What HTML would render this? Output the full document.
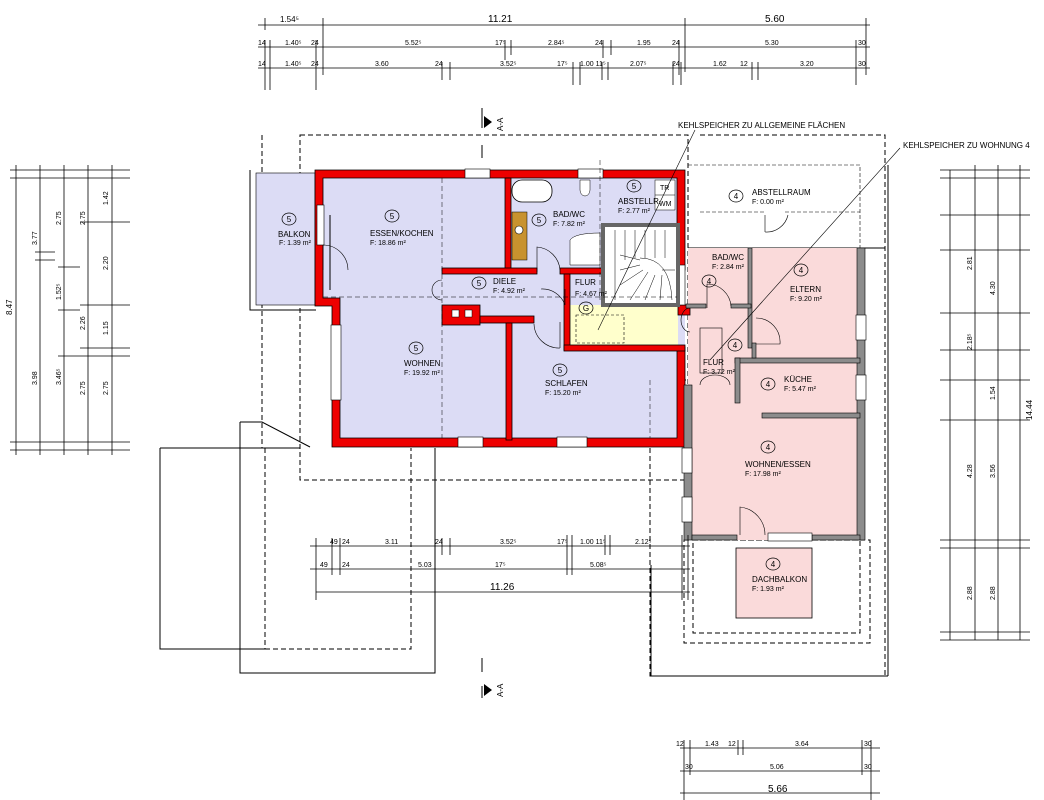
<!DOCTYPE html>
<html><head><meta charset="utf-8"><style>
html,body{margin:0;padding:0;background:#fff;}
svg{display:block;font-family:"Liberation Sans Narrow","Liberation Sans",sans-serif;}
.t{font-size:8px;fill:#000;}
.d{font-size:7px;fill:#000;}
.big{font-size:10px;fill:#000;}
</style></head><body>
<svg width="1044" height="800" viewBox="0 0 1044 800" xmlns="http://www.w3.org/2000/svg">
<g fill="none" stroke="#000" stroke-width="1">
<!-- roof outlines -->
<rect x="300" y="135" width="388" height="345" stroke-dasharray="5,3"/>
<path d="M700 135 H885 V676 H650 V380 H688" stroke-dasharray="5,3"/>
<path d="M888 165 V676" />
<path d="M651 565 V676 H888"/>
<rect x="684" y="540" width="186" height="103" stroke-dasharray="5,3"/>
<rect x="693" y="540" width="167" height="93" stroke-dasharray="5,3"/>
<path d="M160 448 H300 M160 448 V649 H265" />
<path d="M265 649 H411 V448" stroke-dasharray="5,3"/>
<path d="M265 448 V649" stroke-dasharray="5,3"/>
<path d="M240 422 V673 H435 V448"/>
<path d="M240 422 H262 L310 447"/>
<path d="M250 170 V310 H316"/>
<path d="M262 135 V448" stroke-dasharray="5,3"/>
<path d="M640 380 H688" stroke-dasharray="5,3"/>
<path d="M688 248 H885"/>
<path d="M640 420 H688" stroke-dasharray="5,3"/>
</g>
<!-- balcony -->
<rect x="256" y="173" width="59" height="132" fill="#dcdcf5" stroke="#000" stroke-width="0.6"/>
<!-- unit 5 fill -->
<path d="M316 170 H685 V447 H332 V300 H316 Z" fill="#dcdcf5"/>
<rect x="568" y="305" width="110" height="42" fill="#ffffcc"/>
<!-- unit 4 fill -->
<path d="M688 248 H862 V540 H688 Z" fill="#fadada"/>
<rect x="736" y="548" width="76" height="70" fill="#fadada" stroke="#000" stroke-width="0.8"/>
<!-- red walls -->
<g fill="#ee0000" stroke="#000" stroke-width="0.8">
<path d="M315 170 H685 V270 H677 V178 H323 V298 H340 V438 H677 V347 H685 V447 H332 V306 H315 Z"/>
<rect x="505" y="178" width="6" height="92"/>
<rect x="442" y="268" width="95" height="6"/>
<rect x="560" y="268" width="43" height="6"/>
<rect x="442" y="305" width="38" height="20"/>
<rect x="480" y="316" width="54" height="7"/>
<rect x="506" y="323" width="6" height="117"/>
<rect x="564" y="274" width="6" height="76"/>
<rect x="564" y="345" width="121" height="6"/>
<rect x="678" y="305" width="12" height="10"/>
</g>
<rect x="452" y="310" width="7" height="7" fill="#fff" stroke="#000" stroke-width="0.5"/>
<rect x="465" y="310" width="7" height="7" fill="#fff" stroke="#000" stroke-width="0.5"/>
<!-- windows on red walls -->
<g fill="#fff" stroke="#000" stroke-width="0.6">
<rect x="465" y="169" width="25" height="9"/>
<rect x="578" y="169" width="25" height="9"/>
<rect x="317" y="205" width="7" height="40"/>
<rect x="331" y="325" width="10" height="75"/>
<rect x="458" y="437" width="25" height="10"/>
<rect x="557" y="437" width="30" height="10"/>
<rect x="677" y="265" width="8" height="40"/>
</g>
<!-- stairs -->
<rect x="603" y="225" width="75" height="80" fill="#fff" stroke="#666" stroke-width="4"/>
<g stroke="#000" stroke-width="0.5" fill="none">
<path d="M615 230 V300 M625 230 V260 M635 230 V258 M645 230 V258 M655 230 V258 M665 230 V258 M620 255 L640 260 M620 270 L640 265 M620 285 L643 270 M630 300 L648 272 M645 300 L655 275 M660 300 L662 275 M675 270 H662"/>
<path d="M640 258 Q670 258 672 300"/>
</g>
<!-- bath fixtures -->
<rect x="512" y="180" width="40" height="22" rx="10" fill="#fff" stroke="#000" stroke-width="0.8"/>
<rect x="512" y="212" width="15" height="48" fill="#c8922e" stroke="#000" stroke-width="0.5"/>
<circle cx="519" cy="230" r="4" fill="#fff" stroke="#000" stroke-width="0.6"/>
<path d="M580 180 h10 v10 a5 6 0 0 1 -10 0 z" fill="#fff" stroke="#000" stroke-width="0.5"/>
<path d="M570 265 V240 Q575 233 600 233 V265 Z" fill="#fff" stroke="#000" stroke-width="0.5"/>
<rect x="655" y="180" width="20" height="30" fill="#fff" stroke="#000" stroke-width="0.5"/>
<path d="M655 195 H675" stroke="#000" stroke-width="0.5"/>
<text x="660" y="190" class="d">TR</text><text x="659" y="206" class="d">WM</text>
<!-- doors -->
<g fill="none" stroke="#000" stroke-width="0.6">
<path d="M323 245 A25 25 0 0 1 348 270 M323 245 V270"/>
<path d="M537 272 V247 A25 25 0 0 1 560 270"/>
<path d="M565 305 A24 24 0 0 0 541 289 M565 289 V305"/>
<path d="M534 324 A25 25 0 0 0 560 348 M560 322 V348"/>
<path d="M442 280 A10 10 0 0 0 442 300"/>
<path d="M690 308 A9 12 0 0 0 690 332"/>
<path d="M756 318 A24 24 0 0 1 780 344 H756"/>
<path d="M707 308 V284 A24 24 0 0 1 731 306"/>
<path d="M700 385 A15 10 0 0 1 730 385"/>
<path d="M740 535 V507 A28 28 0 0 1 765 535"/>
<path d="M765 232 A22 22 0 0 0 788 215 M765 215 V232"/>
<rect x="576" y="315" width="48" height="28" stroke-dasharray="3,2"/>
<rect x="700" y="328" width="22" height="45"/>
<path d="M330 215 V290" stroke-width="1"/>
<path d="M442 178 V438 M600 160 V300 M650 380 V438" stroke-dasharray="5,3" stroke-width="0.5"/>
<path d="M323 297 H677" stroke-dasharray="5,3" stroke-width="0.5"/>
</g>
<!-- unit 4 gray walls -->
<g fill="#8c8c8c" stroke="#000" stroke-width="0.6">
<rect x="857" y="248" width="8" height="292"/>
<rect x="735" y="358" width="125" height="5"/>
<rect x="762" y="413" width="98" height="5"/>
<rect x="735" y="358" width="5" height="45"/>
<rect x="684" y="385" width="8" height="155"/>
<rect x="692" y="535" width="45" height="5"/>
<rect x="812" y="535" width="48" height="5"/>
<rect x="748" y="248" width="4" height="100"/>
<rect x="686" y="304" width="20" height="4"/>
<rect x="731" y="304" width="20" height="4"/>
<rect x="752" y="343" width="4" height="15"/>
</g>
<g fill="#fff" stroke="#000" stroke-width="0.6">
<rect x="856" y="315" width="10" height="25"/>
<rect x="856" y="375" width="10" height="25"/>
<rect x="682" y="448" width="10" height="25"/>
<rect x="682" y="497" width="10" height="25"/>
<rect x="768" y="533" width="44" height="8"/>
</g>
<path d="M688 165 H860 V248 M700 212 H765 M785 212 H860" fill="none" stroke="#000" stroke-width="0.6" stroke-dasharray="4,2"/>
<!-- leader lines -->
<g stroke="#000" stroke-width="0.6" fill="none">
<path d="M695 130 L598 330"/>
<path d="M900 148 L710 360"/>
</g>
<text x="678" y="128" class="t">KEHLSPEICHER ZU ALLGEMEINE FLÄCHEN</text>
<text x="903" y="148" class="t">KEHLSPEICHER ZU WOHNUNG 4</text>
<!-- room labels -->
<g stroke="#000" stroke-width="0.7" fill="none">
<ellipse cx="289" cy="219" rx="7" ry="6"/><ellipse cx="392" cy="216" rx="7" ry="6"/>
<ellipse cx="539" cy="220" rx="7" ry="6"/><ellipse cx="634" cy="186" rx="7" ry="6"/>
<ellipse cx="479" cy="283" rx="7" ry="6"/><ellipse cx="586" cy="308" rx="7" ry="6"/>
<ellipse cx="416" cy="348" rx="7" ry="6"/><ellipse cx="560" cy="370" rx="7" ry="6"/>
<ellipse cx="736" cy="196" rx="7" ry="6"/><ellipse cx="709" cy="281" rx="7" ry="6"/>
<ellipse cx="801" cy="270" rx="7" ry="6"/><ellipse cx="735" cy="345" rx="7" ry="6"/>
<ellipse cx="768" cy="384" rx="7" ry="6"/><ellipse cx="768" cy="447" rx="7" ry="6"/>
<ellipse cx="773" cy="564" rx="7" ry="6"/>
</g>
<g class="t" text-anchor="middle">
<text x="289" y="222">5</text><text x="392" y="219">5</text><text x="539" y="223">5</text><text x="634" y="189">5</text>
<text x="479" y="286">5</text><text x="586" y="311">G</text><text x="416" y="351">5</text><text x="560" y="373">5</text>
<text x="736" y="199">4</text><text x="709" y="284">4</text><text x="801" y="273">4</text><text x="735" y="348">4</text>
<text x="768" y="387">4</text><text x="768" y="450">4</text><text x="773" y="567">4</text>
</g>
<g class="t">
<text x="278" y="237">BALKON</text><text x="279" y="245" class="d">F: 1.39 m²</text>
<text x="370" y="236">ESSEN/KOCHEN</text><text x="370" y="245" class="d">F: 18.86 m²</text>
<text x="553" y="217">BAD/WC</text><text x="553" y="226" class="d">F: 7.82 m²</text>
<text x="618" y="204">ABSTELLR.</text><text x="618" y="213" class="d">F: 2.77 m²</text>
<text x="493" y="284">DIELE</text><text x="493" y="293" class="d">F: 4.92 m²</text>
<text x="575" y="285">FLUR</text><text x="575" y="296" class="d">F: 4.67 m²</text>
<text x="404" y="366">WOHNEN</text><text x="404" y="375" class="d">F: 19.92 m²</text>
<text x="545" y="386">SCHLAFEN</text><text x="545" y="395" class="d">F: 15.20 m²</text>
<text x="752" y="195">ABSTELLRAUM</text><text x="752" y="204" class="d">F: 0.00 m²</text>
<text x="712" y="260">BAD/WC</text><text x="712" y="269" class="d">F: 2.84 m²</text>
<text x="790" y="292">ELTERN</text><text x="790" y="301" class="d">F: 9.20 m²</text>
<text x="703" y="365">FLUR</text><text x="703" y="374" class="d">F: 3.72 m²</text>
<text x="784" y="382">KÜCHE</text><text x="784" y="391" class="d">F: 5.47 m²</text>
<text x="745" y="467">WOHNEN/ESSEN</text><text x="745" y="476" class="d">F: 17.98 m²</text>
<text x="752" y="582">DACHBALKON</text><text x="752" y="591" class="d">F: 1.93 m²</text>
</g>
<!-- section markers -->
<g stroke="#000" stroke-width="1">
<path d="M482 108 V128 M482 145 V158 M482 658 V672 M482 686 V698"/>
</g>
<path d="M484 116 L492 122 L484 128 Z M484 684 L492 690 L484 696 Z" fill="#000"/>
<text class="t" transform="translate(503,131) rotate(-90)">A-A</text>
<text class="t" transform="translate(503,697) rotate(-90)">A-A</text>
<!-- dimension lines -->
<g stroke="#000" stroke-width="0.8" fill="none">
<path d="M258 25 H870 M258 47 H870 M258 68 H870"/>
<path d="M265 18 V30 M323 18 V75 M685 18 V72 M866 18 V75 M270 40 V90 M316 40 V90 M505 40 V60 M511 40 V55 M603 40 V58 M611 40 V55 M679 40 V75 M856 40 V85 M442 62 V80 M450 62 V80 M573 62 V85 M580 62 V85 M602 62 V80 M608 62 V80 M673 62 V85 M681 62 V85 M752 62 V80 M758 62 V80 M265 40 V90"/>
<path d="M16 165 V455 M40 165 V455 M64 165 V455 M88 165 V455 M112 165 V455"/>
<path d="M10 170 H130 M10 178 H130 M10 442 H130 M10 450 H130 M35 252 H55 M35 260 H55 M58 267 H80 M58 310 H80 M80 222 H130 M80 305 H130 M80 348 H130 M58 356 H130"/>
<path d="M950 170 V640 M975 165 V640 M998 165 V640 M1020 165 V640"/>
<path d="M940 170 H1030 M940 178 H1030 M940 215 H1030 M940 250 H1030 M940 313 H1030 M940 350 H1030 M940 380 H1030 M940 420 H1030 M940 540 H1030 M940 548 H1030 M940 632 H1030 M940 640 H1030"/>
<path d="M310 546 H690 M310 569 H690 M316 592 H690"/>
<path d="M316 538 V600 M332 538 V575 M340 538 V575 M442 538 V555 M450 538 V555 M567 535 V575 M572 535 V575 M605 535 V555 M610 535 V555 M682 535 V600 M688 535 V600"/>
<path d="M680 748 H880 M680 771 H880 M680 793 H880"/>
<path d="M684 740 V800 M690 740 V775 M738 740 V755 M743 740 V755 M862 740 V775 M871 740 V800"/>
</g>
<g class="d">
<text x="280" y="22" class="t">1.54⁵</text><text x="488" y="22" class="big">11.21</text><text x="765" y="22" class="big">5.60</text>
<text x="258" y="45">14</text><text x="285" y="45">1.40⁵</text><text x="311" y="45">24</text><text x="405" y="45">5.52⁵</text><text x="495" y="45">17⁵</text><text x="548" y="45">2.84⁵</text><text x="595" y="45">24</text><text x="637" y="45">1.95</text><text x="672" y="45">24</text><text x="765" y="45">5.30</text><text x="858" y="45">30</text>
<text x="258" y="66">14</text><text x="285" y="66">1.40⁵</text><text x="311" y="66">24</text><text x="375" y="66">3.60</text><text x="435" y="66">24</text><text x="500" y="66">3.52⁵</text><text x="557" y="66">17⁵</text><text x="580" y="66">1.00 11⁵</text><text x="630" y="66">2.07⁵</text><text x="672" y="66">24</text><text x="713" y="66">1.62</text><text x="740" y="66">12</text><text x="800" y="66">3.20</text><text x="858" y="66">30</text>
<text x="330" y="544">49</text><text x="342" y="544">24</text><text x="385" y="544">3.11</text><text x="435" y="544">24</text><text x="500" y="544">3.52⁵</text><text x="557" y="544">17⁵</text><text x="580" y="544">1.00 11⁵</text><text x="635" y="544">2.12⁵</text>
<text x="320" y="567">49</text><text x="342" y="567">24</text><text x="418" y="567">5.03</text><text x="495" y="567">17⁵</text><text x="590" y="567">5.08⁵</text>
<text x="490" y="590" class="big">11.26</text>
<text x="676" y="746">12</text><text x="705" y="746">1.43</text><text x="728" y="746">12</text><text x="795" y="746">3.64</text><text x="864" y="746">30</text>
<text x="685" y="769">30</text><text x="770" y="769">5.06</text><text x="864" y="769">30</text>
<text x="768" y="792" class="big">5.66</text>
</g>
<g class="d">
<text transform="translate(12,315) rotate(-90)" class="t">8.47</text>
<text transform="translate(37,245) rotate(-90)">3.77</text><text transform="translate(37,385) rotate(-90)">3.98</text>
<text transform="translate(61,225) rotate(-90)">2.75</text><text transform="translate(61,300) rotate(-90)">1.52⁵</text><text transform="translate(61,385) rotate(-90)">3.46⁵</text>
<text transform="translate(85,225) rotate(-90)">2.75</text><text transform="translate(85,330) rotate(-90)">2.26</text><text transform="translate(85,395) rotate(-90)">2.75</text>
<text transform="translate(108,205) rotate(-90)">1.42</text><text transform="translate(108,270) rotate(-90)">2.20</text><text transform="translate(108,335) rotate(-90)">1.15</text><text transform="translate(108,395) rotate(-90)">2.75</text>
<text transform="translate(1032,420) rotate(-90)" class="t">14.44</text>
<text transform="translate(995,295) rotate(-90)">4.30</text><text transform="translate(995,478) rotate(-90)">3.56</text><text transform="translate(995,600) rotate(-90)">2.88</text><text transform="translate(995,400) rotate(-90)">1.54</text>
<text transform="translate(972,270) rotate(-90)">2.81</text><text transform="translate(972,350) rotate(-90)">2.18⁵</text><text transform="translate(972,478) rotate(-90)">4.28</text><text transform="translate(972,600) rotate(-90)">2.88</text>
</g>
</svg>
</body></html>
